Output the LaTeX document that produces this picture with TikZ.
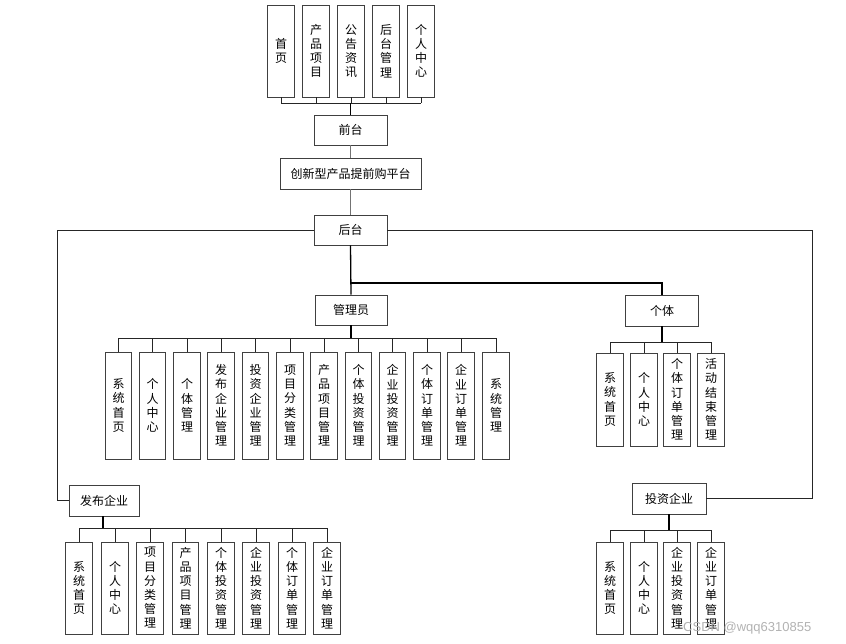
\documentclass[tikz,border=0pt]{standalone}
\usepackage{fontspec}
\newfontfamily\cjk{Noto Sans CJK SC}
\setsansfont{Liberation Sans}
\begin{document}
\begin{tikzpicture}[x=1pt,y=-1pt,
  hbox/.style={draw=black!75, line width=0.9pt, inner sep=0pt, font=\cjk\fontsize{12}{14}\selectfont},
  vbox/.style={draw=black!75, line width=0.9pt, inner sep=0pt, minimum width=26.5, align=center, font=\cjk\fontsize{12}{14.2}\selectfont},
  wire/.style={draw=black!85, line width=0.9pt},
  stem/.style={draw=black, line width=1.8pt}
]
\useasboundingbox (0,0) rectangle (846,644);

% top row
\foreach \n/\x/\t in {t1/281/首\\页, t2/316/产\\品\\项\\目, t3/351/公\\告\\资\\讯, t4/386/后\\台\\管\\理, t5/421/个\\人\\中\\心}{
  \node[vbox, minimum height=92] (\n) at (\x,51) {\t};
}
\node[hbox, minimum width=73, minimum height=30] (qt) at (350.5,130) {前台};
\node[hbox, minimum width=141, minimum height=31] (pt) at (350.5,173.5) {创新型产品提前购平台};
\node[hbox, minimum width=73, minimum height=30] (ht) at (350.5,230) {后台};
\node[hbox, minimum width=72, minimum height=30] (gly) at (351,310) {管理员};
\node[hbox, minimum width=73, minimum height=31] (gt) at (662,310.5) {个体};
\node[hbox, minimum width=70, minimum height=31] (fb) at (104,500.5) {发布企业};
\node[hbox, minimum width=74, minimum height=31] (tz) at (669,498.5) {投资企业};

% top connectors
\foreach \n in {t1,t2,t3,t4,t5}{ \draw[wire] (\n.south) -- (\n.south |- 0,103); }
\draw[wire] (t1.south |- 0,103) -- (t5.south |- 0,103);
\draw[stem] (qt.north |- 0,103) -- (qt.north);
\draw[wire, draw=black!55, line width=1.3pt] (qt.south) -- (pt.north);
\draw[wire, draw=black!55, line width=1.3pt] (pt.south) -- (ht.north);

% back office branches
\draw[wire] (ht.west) -- (57,230) |- (fb.west);
\draw[wire] (ht.east) -- (812,230) |- (tz.east);
\draw[stem, line width=1.3pt] (ht.south) -- (gly.north);
\draw[stem, line width=1.3pt] (ht.south |- 0,283) -| (gt.north);

% admin children
\foreach \n/\x/\t in {a1/118.5/系\\统\\首\\页, a2/152.5/个\\人\\中\\心, a3/187/个\\体\\管\\理, a4/221/发\\布\\企\\业\\管\\理, a5/255.5/投\\资\\企\\业\\管\\理, a6/290/项\\目\\分\\类\\管\\理, a7/324/产\\品\\项\\目\\管\\理, a8/358.5/个\\体\\投\\资\\管\\理, a9/392.5/企\\业\\投\\资\\管\\理, a10/427/个\\体\\订\\单\\管\\理, a11/461/企\\业\\订\\单\\管\\理, a12/496/系\\统\\管\\理}{
  \node[vbox, minimum height=107] (\n) at (\x,405.5) {\t};
  \draw[wire] (\n.north) -- (\n.north |- 0,338);
}
\draw[wire] (a1.north |- 0,338) -- (a12.north |- 0,338);
\draw[stem] (gly.south) -- (gly.south |- 0,338);

% individual children
\foreach \n/\x/\t in {g1/610/系\\统\\首\\页, g2/644/个\\人\\中\\心, g3/677/个\\体\\订\\单\\管\\理, g4/711/活\\动\\结\\束\\管\\理}{
  \node[vbox, minimum height=93] (\n) at (\x,399.5) {\t};
  \draw[wire] (\n.north) -- (\n.north |- 0,342);
}
\draw[wire] (g1.north |- 0,342) -- (g4.north |- 0,342);
\draw[stem] (gt.south) -- (gt.south |- 0,342);

% publishing enterprise children
\foreach \n/\x/\t in {f1/79/系\\统\\首\\页, f2/115/个\\人\\中\\心, f3/150/项\\目\\分\\类\\管\\理, f4/185.5/产\\品\\项\\目\\管\\理, f5/221/个\\体\\投\\资\\管\\理, f6/256/企\\业\\投\\资\\管\\理, f7/292/个\\体\\订\\单\\管\\理, f8/327/企\\业\\订\\单\\管\\理}{
  \node[vbox, minimum height=92] (\n) at (\x,588) {\t};
  \draw[wire] (\n.north) -- (\n.north |- 0,528);
}
\draw[wire] (f1.north |- 0,528) -- (f8.north |- 0,528);
\draw[stem] (fb.south -| 103,0) -- (103,528);

% investing enterprise children
\foreach \n/\x/\t in {z1/610/系\\统\\首\\页, z2/644/个\\人\\中\\心, z3/677/企\\业\\投\\资\\管\\理, z4/711/企\\业\\订\\单\\管\\理}{
  \node[vbox, minimum height=92] (\n) at (\x,588) {\t};
  \draw[wire] (\n.north) -- (\n.north |- 0,530);
}
\draw[wire] (z1.north |- 0,530) -- (z4.north |- 0,530);
\draw[stem] (tz.south) -- (tz.south |- 0,530);

% watermark
\node[text=black!30, font=\sffamily\fontsize{13}{15}\selectfont, anchor=west, inner sep=0pt] (wm) at (683,628) {CSDN @wqq6310855};
\end{tikzpicture}
\end{document}
